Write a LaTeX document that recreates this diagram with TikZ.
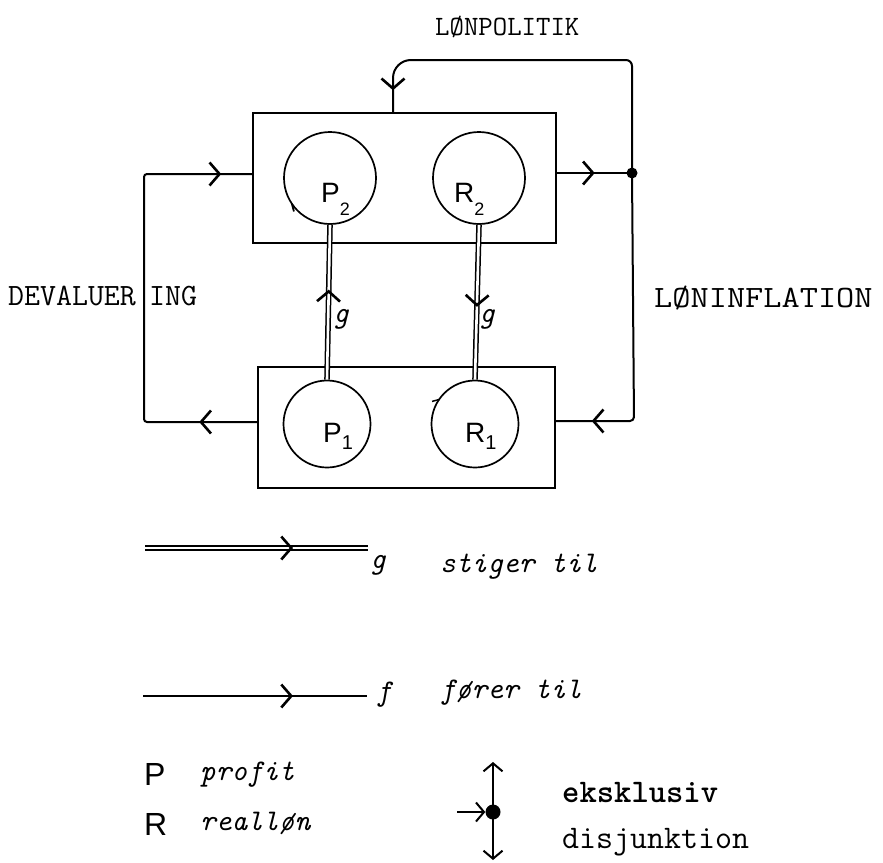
\documentclass[tikz,border=0pt]{standalone}
\usepackage{fontspec}
\newfontfamily\sffont{Liberation Sans}
\usetikzlibrary{arrows.meta,decorations.markings,calc}

\tikzset{
  chev/.tip={Straight Barb[length=10pt,width=23pt,line width=2.6pt]},
  wire/.style={line width=2pt},
  dbl/.style={double, double distance=2.6pt, line width=1.5pt},
  stbox/.style={draw, line width=1.5pt, inner sep=0pt},
  state/.style={circle, draw, line width=1.7pt, inner sep=0pt},
  junction/.style={circle, fill, inner sep=0pt, minimum size=#1},
  ttlbl/.style={font=\ttfamily\addfontfeatures{FakeBold=2.2}\fontsize{#1}{#1}\selectfont, inner sep=0pt, anchor=base west},
  itlbl/.style={font=\ttfamily\itshape\addfontfeatures{FakeBold=2.2}\fontsize{30}{30}\selectfont, inner sep=0pt, anchor=base west},
  varlbl/.style={font=\sffont\fontsize{28}{28}\selectfont, inner sep=0pt, anchor=base west},
  % arrowheads along a connector
  chevat/.style={decoration={markings, mark=at position #1 with {\arrow[line width=2.6pt]{chev}}}, postaction={decorate}},
  chevtwo/.style 2 args={decoration={markings,
      mark=at position #1 with {\arrow[line width=2.6pt]{chev}},
      mark=at position #2 with {\arrow[line width=2.6pt]{chev}}}, postaction={decorate}},
  endchev/.style={-{Straight Barb[length=8pt,width=19pt]}},
}
% subscripts inside the state circles
\newcommand{\lowtwo}{\raisebox{-13pt}{\fontsize{18}{18}\selectfont 2}}
\newcommand{\lowone}{\raisebox{-7pt}{\fontsize{20}{20}\selectfont 1}}

\begin{document}
\begin{tikzpicture}[x=1pt,y=-1pt]
\useasboundingbox (0,0) rectangle (883,862);

% --- the two states ---
\node[stbox, minimum width=303pt, minimum height=130pt] (top) at (404.5,178) {};
\node[stbox, minimum width=297pt, minimum height=121pt] (bot) at (406.5,427.5) {};

\node[state, minimum size=92pt] (P2) at (330,178) {};
\node[state, minimum size=92pt] (R2) at (479,178) {};
\node[state, minimum size=87pt] (P1) at (327,424) {};
\node[state, minimum size=87pt] (R1) at (475,424) {};

\node[varlbl] (P2t) at (321,202) {P\lowtwo};
\node[varlbl] (R2t) at (454,202) {R\lowtwo};
\node[varlbl] (P1t) at (323,442) {P\lowone};
\node[varlbl] (R1t) at (465,442) {R\lowone};

% small direction strokes on two circles
\draw[line width=1.8pt] (P2) ++(146:46) -- ++(75:8);
\draw[line width=1.5pt] (R1) ++(215:43) -- ++(165:8);

% --- "stiger til" links between the states ---
\draw[dbl] (P1.north) -- (P2.south);
\path[chevat=90pt] (P1.north) -- (P2.south);
\draw[dbl] (R2.south) -- (R1.north);
\path[chevat=82pt] (R2.south) -- (R1.north);
\node[itlbl] (gP) at (333,322) {g};
\node[itlbl] (gR) at (479,322) {g};

% --- junction and feedback loops ---
\node[junction=11pt] (dot) at (632,173) {};
\coordinate (lpA) at (632,60);
\coordinate (lpB) at (393,60);
\coordinate (rdn) at (634,421);
\coordinate (lA) at (144,422);
\coordinate (lB) at (144,174);

\draw[wire, chevat=38pt] (top.east |- dot) -- (dot.center);
\draw[wire, rounded corners=6pt, chevat=-22pt]
  (dot.center) -- (lpA) [rounded corners=18pt] -- (lpB) -- (lpB |- top.north);
\draw[wire, rounded corners=4pt, chevat=-36pt]
  (dot.center) -- (rdn) -- (rdn -| bot.east);
\draw[wire, rounded corners=3pt, chevtwo={58pt}{-31pt}]
  (bot.west |- lA) -- (lA) -- (lB) -- (lB -| top.west);

% --- loop labels ---
\node[ttlbl=28] (lonpol) at (435,35) {LØNPOLITIK};
\node[ttlbl=31] (deval) at (8,305) {DEVALUER};
\node[ttlbl=31] (devalb) at (149,305) {ING};
\node[ttlbl=31] (loninf) at (654,307) {\scalebox{1.14}[1]{LØNINFLATION}};

% --- legend ---
\coordinate (gs) at (145,548);
\coordinate (ge) at (368,548);
\draw[dbl] (gs) -- (ge);
\path[chevat=148pt] (gs) -- (ge);
\node[itlbl] (gl) at (370,568) {g};
\node[itlbl] (stiger) at (440,572) {stiger til};

\coordinate (fs) at (143,696);
\coordinate (fe) at (367,696);
\draw[wire, chevat=150pt] (fs) -- (fe);
\node[itlbl] (fl) at (376,700) {f};
\node[itlbl] (forer) at (440,698) {fører til};

\node[varlbl, font=\sffont\fontsize{32}{32}\selectfont] (Pl) at (144,785) {P};
\node[itlbl] (profit) at (200,780) {profit};
\node[varlbl, font=\sffont\fontsize{32}{32}\selectfont] (Rl) at (144,835) {R};
\node[itlbl] (reallon) at (200,830) {realløn};

\node[junction=15pt] (xdot) at (493,812) {};
\coordinate (xin) at (457,812);
\coordinate (xup) at (493,762);
\coordinate (xdn) at (493,860);
\draw[wire, endchev] (xin) -- (xdot.west);
\draw[wire, endchev] (xdot.center) -- (xup);
\draw[wire, endchev] (xdot.center) -- (xdn);
\node[ttlbl=33, font=\ttfamily\bfseries\fontsize{33}{33}\selectfont] (eks) at (562,802) {eksklusiv};
\node[ttlbl=33] (disj) at (562,848) {disjunktion};
\end{tikzpicture}
\end{document}
